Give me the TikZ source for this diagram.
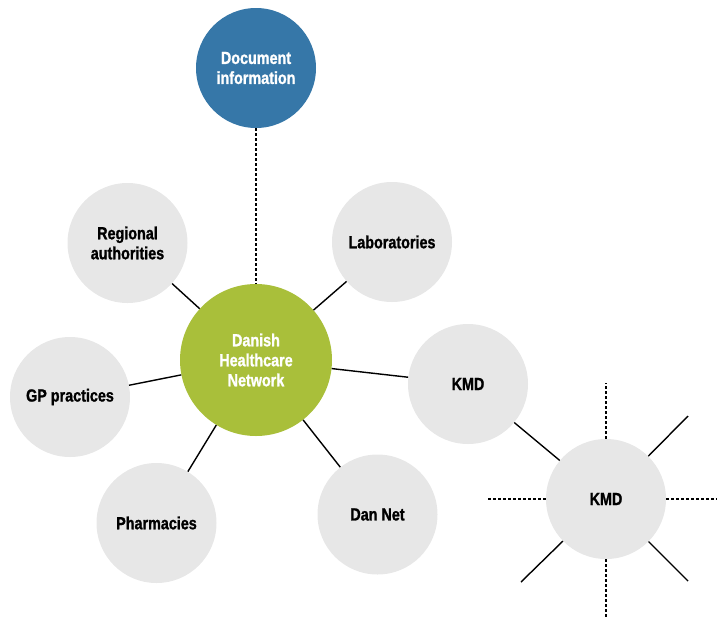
\documentclass[tikz,border=0pt]{standalone}
\usepackage{fontspec}
\setmainfont{Liberation Sans}[FakeStretch=0.82,BoldFeatures={FakeBold=1.2}]
\usetikzlibrary{calc}
\definecolor{greyfill}{HTML}{E7E7E7}
\definecolor{hubgreen}{HTML}{A9BF3A}
\definecolor{docblue}{HTML}{3677A8}
\tikzset{
  bubble/.style={circle, fill=greyfill, minimum size=120pt, inner sep=0pt,
    align=center, font=\fontsize{17.5}{20}\selectfont\bfseries, text=black},
  hub/.style={circle, fill=hubgreen, minimum size=152pt, inner sep=0pt,
    align=center, font=\fontsize{17.5}{20}\selectfont\bfseries, text=white},
  docnode/.style={circle, fill=docblue, minimum size=120pt, inner sep=0pt,
    align=center, font=\fontsize{17.5}{20}\selectfont\bfseries, text=white},
  link/.style={line width=1.4pt, black},
  dlink/.style={line width=1.4pt, black, dash pattern=on 3pt off 2pt},
}
\begin{document}
\begin{tikzpicture}[x=1pt,y=-1pt]
\useasboundingbox (0,0) rectangle (717,622);
\node[docnode] (doc) at (256,68) {Document\\information};
\node[hub] (hub) at (256,360) {Danish\\Healthcare\\Network};
\node[bubble] (reg) at (127.5,243) {Regional\\authorities};
\node[bubble] (lab) at (392,242) {Laboratories};
\node[bubble] (gp) at (70,397) {GP practices};
\node[bubble] (kmd) at (468,384) {KMD};
\node[bubble] (pha) at (156.5,523) {Pharmacies};
\node[bubble] (dan) at (377.5,514.5) {Dan Net};
\node[bubble] (kmdb) at (606,499) {KMD};
% rays
\coordinate (rt) at (606,383);
\coordinate (rb) at (606,619);
\coordinate (rl) at (487,499);
\coordinate (rr) at (717,499);
\coordinate (rur) at (688,416);
\coordinate (rlr) at (688,581);
\coordinate (rll) at (521,582);
\draw[dlink] (doc) -- (hub);
\draw[link] (reg) -- (hub);
\draw[link] (lab) -- (hub);
\draw[link] (gp) -- (hub);
\draw[link] (kmd) -- (hub);
\draw[link] (pha) -- (hub);
\draw[link] (dan) -- (hub);
\draw[link] (kmd) -- (kmdb);
\draw[dlink] (kmdb) -- (rt);
\draw[dlink] (kmdb) -- (rb);
\draw[dlink] (kmdb) -- (rl);
\draw[dlink] (kmdb) -- (rr);
\draw[link] (kmdb) -- (rur);
\draw[link] (kmdb) -- (rlr);
\draw[link] (kmdb) -- (rll);
\end{tikzpicture}
\end{document}
